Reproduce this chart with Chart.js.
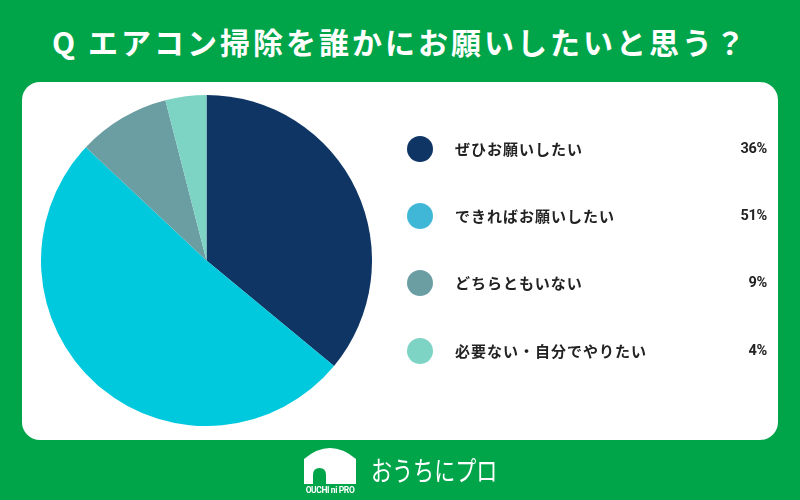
<!DOCTYPE html>
<html><head><meta charset="utf-8">
<script src="https://cdn.jsdelivr.net/npm/chart.js@4"></script>
<style>
html,body{margin:0;padding:0;}
body{width:800px;height:500px;background:#00A54A;position:relative;overflow:hidden;font-family:"Noto Sans CJK JP","Noto Sans",sans-serif;}
#title{position:absolute;left:0;top:19px;width:800px;text-align:center;color:#fff;font-weight:700;font-size:30px;letter-spacing:3px;line-height:44px;}
#panel{position:absolute;left:22px;top:82px;width:756px;height:358px;background:#fff;border-radius:18px;}
#pieBox{position:absolute;left:41px;top:95px;width:331px;height:331px;}
#legend{position:absolute;left:0;top:0;width:800px;height:500px;pointer-events:none;}
.item{position:absolute;left:407px;width:360px;height:30px;}
.dot{position:absolute;left:0;top:2px;width:26px;height:26px;border-radius:50%;}
.lab{position:absolute;left:48px;top:0;line-height:30px;font-size:15px;font-weight:700;color:#222;letter-spacing:1px;}
.pct{position:absolute;right:0;top:0;line-height:30px;font-size:14.5px;font-weight:700;color:#222;font-family:"Roboto","Noto Sans",sans-serif;letter-spacing:-0.3px;}
#logoText{position:absolute;left:371px;top:450px;color:#fff;font-size:27px;font-weight:400;line-height:40px;transform:scaleX(0.78);transform-origin:0 0;}
</style></head>
<body>
<div id="title">Q エアコン掃除を誰かにお願いしたいと思う？</div>
<div id="panel"></div>
<div id="pieBox"><canvas id="c"></canvas></div>
<div id="legend"></div>
<svg style="position:absolute;left:300px;top:444px" width="64" height="54" viewBox="0 0 64 54">
  <path d="M4 15 Q30 -7 56 15 L56 40 L4 40 Z" fill="#fff"/>
  <path d="M13 40 L13 31 Q13 24 19.5 24 Q26 24 26 31 L26 40 Z" fill="#00A54A"/>
  <text x="30" y="49" fill="#fff" font-size="8.5" font-family="Roboto,sans-serif" font-weight="700" text-anchor="middle" letter-spacing="-0.4">OUCHI ni PRO</text>
</svg>
<div id="logoText">おうちにプロ</div>
<script>
const categories = ["ぜひお願いしたい","できればお願いしたい","どちらともいない","必要ない・自分でやりたい"];
const values = [36,51,9,4];
const pctLabels = ["36%","51%","9%","4%"];
const sliceColors = ["#0E3564","#00C9DE","#6A9EA3","#7DD4C5"];
const dotColors = ["#0E3564","#41B7D8","#6A9EA3","#7DD4C5"];

new Chart(document.getElementById('c'),{
  type:'pie',
  data:{labels:categories,datasets:[{data:values,backgroundColor:sliceColors,borderWidth:0}]},
  options:{responsive:true,maintainAspectRatio:false,animation:false,
    layout:{padding:0},
    plugins:{legend:{display:false},tooltip:{enabled:false}}}
});

const lg = document.getElementById('legend');
const ys = [134,201,268,336];
categories.forEach((c,i)=>{
  const d = document.createElement('div'); d.className='item'; d.style.top=ys[i]+'px';
  d.innerHTML = '<div class="dot" style="background:'+dotColors[i]+'"></div><div class="lab">'+c+'</div><div class="pct">'+pctLabels[i]+'</div>';
  lg.appendChild(d);
});
</script>
</body></html>
